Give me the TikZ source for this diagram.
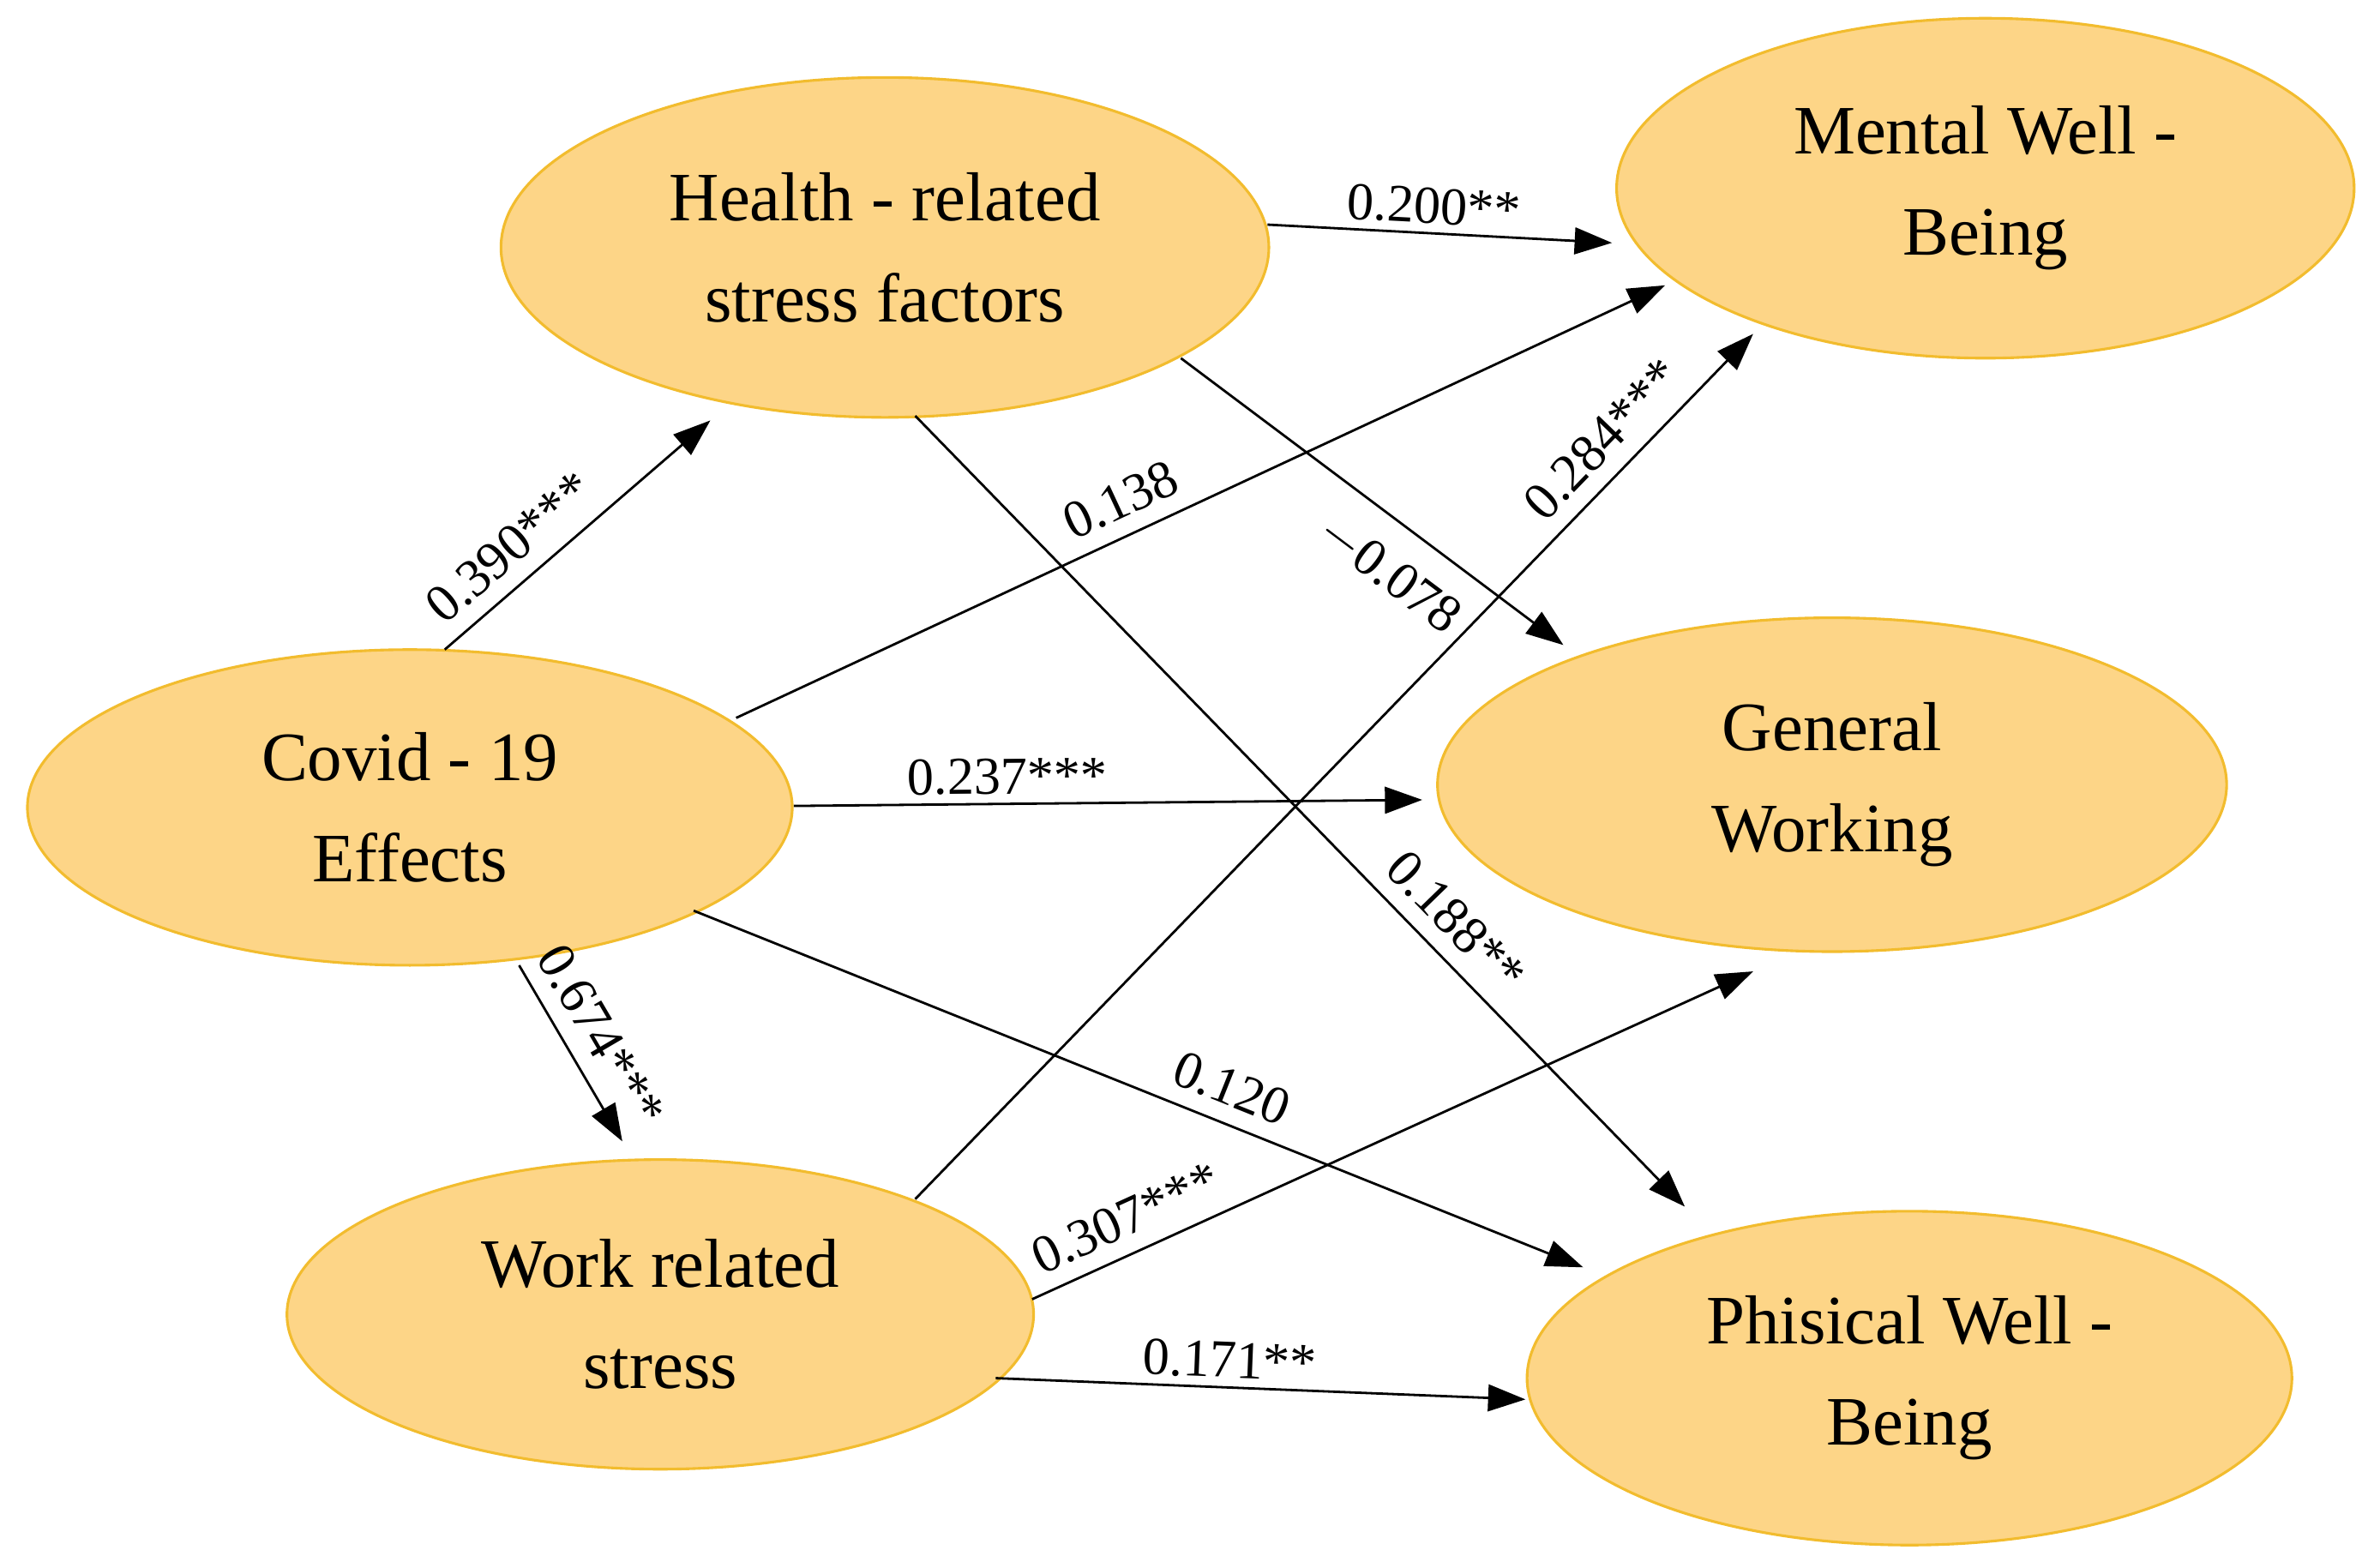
\documentclass[tikz,border=0pt]{standalone}
\usepackage{fontspec}
\setmainfont{Liberation Serif}
\usetikzlibrary{shapes.geometric,arrows.meta}
\definecolor{fillc}{HTML}{FDD587}
\definecolor{edgec}{HTML}{F2BC2E}
\begin{document}
\begin{tikzpicture}[x=0.02cm,y=-0.02cm,
  lat/.style={ellipse,draw=edgec,line width=1pt,fill=fillc,
    align=center,font=\fontsize{26}{38}\selectfont},
  arr/.style={-{Triangle[length=14pt,width=10pt]},line width=0.9pt},
  lab/.style={font=\fontsize{20}{24}\selectfont,sloped,inner sep=6pt}]
\useasboundingbox (0,0) rectangle (1568,1033);
\node[lat,minimum width=10.12cm,minimum height=4.48cm] (health) at (583,163) {Health - related\\stress factors};
\node[lat,minimum width=9.72cm,minimum height=4.48cm] (mental) at (1308,124) {Mental Well -\\Being};
\node[lat,minimum width=10.08cm,minimum height=4.16cm] (covid) at (270,532) {Covid - 19\\Effects};
\node[lat,minimum width=10.4cm,minimum height=4.4cm] (general) at (1207,517) {General\\Working};
\node[lat,minimum width=9.84cm,minimum height=4.08cm] (work) at (435,866) {Work related\\stress};
\node[lat,minimum width=10.08cm,minimum height=4.4cm] (phys) at (1258,908) {Phisical Well -\\Being};
\coordinate (c1) at (293,428); \coordinate (h1) at (468,277);
\coordinate (c2) at (485,473); \coordinate (m1) at (1097,188);
\coordinate (c3) at (523,531); \coordinate (g1) at (937,527);
\coordinate (c4) at (457,600); \coordinate (p1) at (1043,835);
\coordinate (c5) at (342,636); \coordinate (w1) at (410,752);
\coordinate (h2) at (835,148); \coordinate (m2) at (1062,160);
\coordinate (h3) at (778,236); \coordinate (g2) at (1030,425);
\coordinate (h4) at (603,274); \coordinate (p2) at (1110,795);
\coordinate (w2) at (603,790); \coordinate (m3) at (1155,220);
\coordinate (w3) at (680,856); \coordinate (g3) at (1155,640);
\coordinate (w4) at (656,908); \coordinate (p3) at (1005,922);
\draw[arr] (c1) -- node[lab,above,pos=0.33]{0.390***} (h1);
\draw[arr] (c2) -- node[lab,above,pos=0.43]{0.138} (m1);
\draw[arr] (c3) -- node[lab,above,pos=0.34,inner sep=3pt]{0.237***} (g1);
\draw[arr] (c4) -- node[lab,above,pos=0.59]{0.120} (p1);
\draw[arr] (c5) -- node[lab,above,pos=0.5]{0.674***} (w1);
\draw[arr] (h2) -- node[lab,above,pos=0.48,inner sep=3pt]{0.200**} (m2);
\draw[arr] (h3) -- node[lab,below,pos=0.62,inner sep=10pt]{$-$0.078} (g2);
\draw[arr] (h4) -- node[lab,above,pos=0.67]{0.188**} (p2);
\draw[arr] (w2) -- node[lab,above,pos=0.85]{0.284***} (m3);
\draw[arr] (w3) -- node[lab,above,pos=0.15]{0.307***} (g3);
\draw[arr] (w4) -- node[lab,above,pos=0.44,inner sep=3pt]{0.171**} (p3);
\end{tikzpicture}
\end{document}
